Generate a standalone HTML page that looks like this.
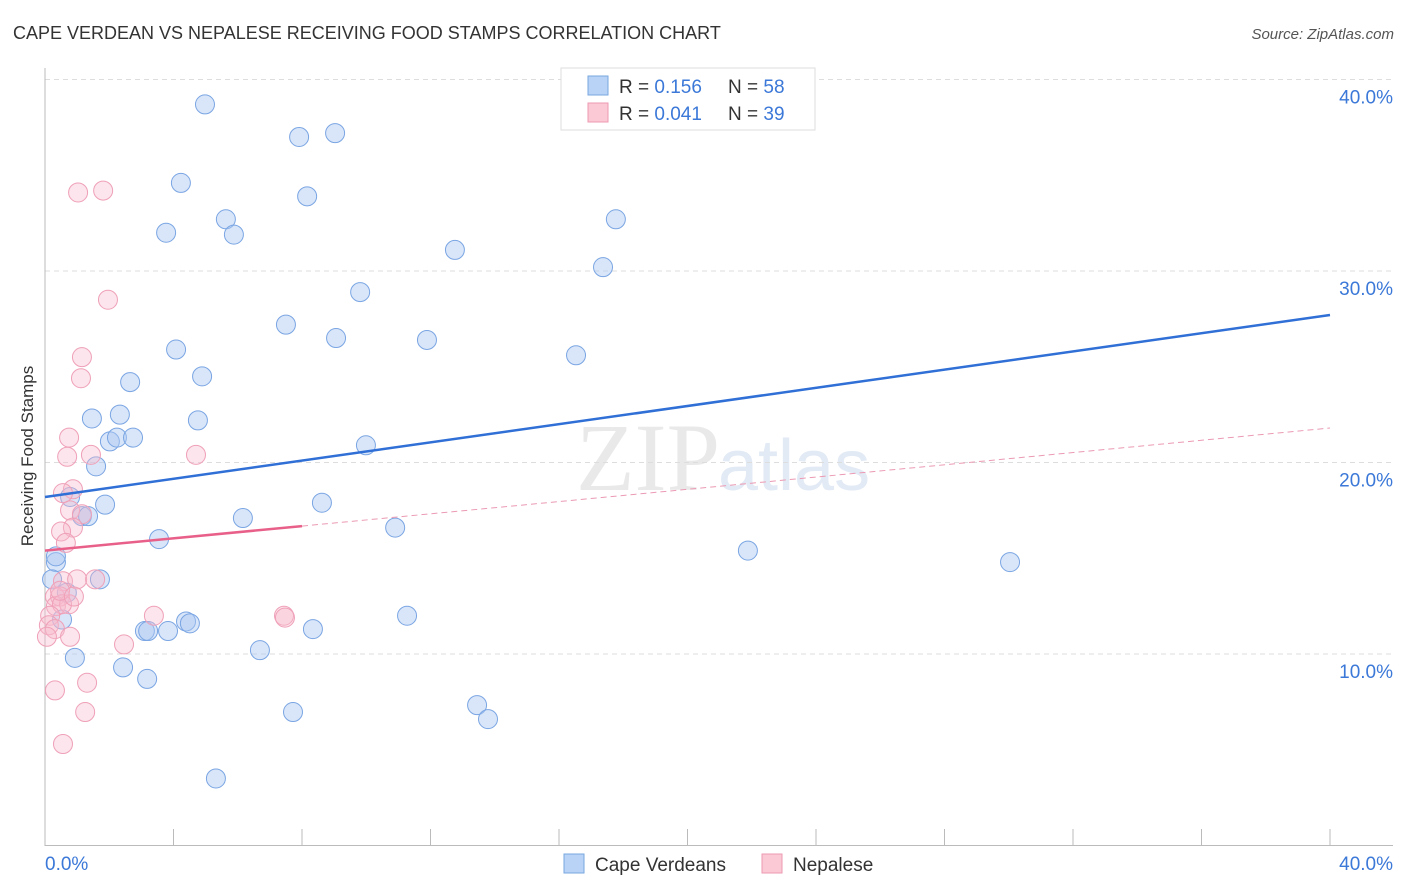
<!DOCTYPE html>
<html><head><meta charset="utf-8"><style>
body{margin:0;background:#fff;font-family:"Liberation Sans",sans-serif}
svg{display:block}
</style></head><body>
<svg id="chart" width="1406" height="892" xmlns="http://www.w3.org/2000/svg">
<text x="13" y="39" font-size="18" fill="#333">CAPE VERDEAN VS NEPALESE RECEIVING FOOD STAMPS CORRELATION CHART</text>
<text x="1394" y="39" font-size="15" fill="#555" font-style="italic" text-anchor="end">Source: ZipAtlas.com</text>
<text x="720" y="490" font-size="96" fill="#e9e9e9" text-anchor="end" font-family="Liberation Serif">ZIP</text>
<text x="718" y="490" font-size="72" fill="#e2eaf5">atlas</text>
<g id="grid"></g>
<g id="axes"></g>
<g id="pts"></g>
<g id="trend"></g>
<text transform="translate(33,456) rotate(-90)" font-size="17" fill="#333" text-anchor="middle">Receiving Food Stamps</text>
<g>
<rect x="561" y="68" width="254" height="62" fill="#fff" stroke="#ddd"/>
<rect x="588" y="76" width="20" height="19" fill="#b8d3f5" stroke="#7aa7e0"/>
<rect x="588" y="103" width="20" height="19" fill="#fbc8d6" stroke="#ee9ab3"/>
<text x="619" y="93" font-size="19" fill="#333">R = <tspan fill="#3b78d8">0.156</tspan><tspan x="728">N = </tspan><tspan fill="#3b78d8">58</tspan></text>
<text x="619" y="120" font-size="19" fill="#333">R = <tspan fill="#3b78d8">0.041</tspan><tspan x="728">N = </tspan><tspan fill="#3b78d8">39</tspan></text>
</g>
<g>
<rect x="564" y="854" width="20" height="19" fill="#b8d3f5" stroke="#7aa7e0"/>
<text x="595" y="871" font-size="19" fill="#333">Cape Verdeans</text>
<rect x="762" y="854" width="20" height="19" fill="#fbc8d6" stroke="#ee9ab3"/>
<text x="793" y="871" font-size="19" fill="#333">Nepalese</text>
</g>
</svg>
<script>
const xTicks=[0,40];
const yTicks=[10,20,30,40];
const blueX=[4.98,7.91,9.03,4.23,8.16,5.63,3.77,5.88,17.77,12.76,17.37,9.81,7.5,9.06,11.89,4.08,16.53,4.89,2.65,1.46,2.33,4.76,2.02,2.24,2.74,9.99,1.59,8.62,1.87,1.15,1.34,6.16,10.9,3.55,21.88,30.04,0.34,1.71,0.22,0.68,11.27,0.53,4.39,4.51,3.11,3.21,3.83,8.34,0.93,6.69,2.43,3.18,7.72,13.45,13.79,5.32,0.34,0.78];
const blueY=[38.7,37.0,37.2,34.6,33.9,32.7,32.0,31.9,32.7,31.1,30.2,28.9,27.2,26.5,26.4,25.9,25.6,24.5,24.2,22.3,22.5,22.2,21.1,21.3,21.3,20.9,19.8,17.9,17.8,17.2,17.2,17.1,16.6,16.0,15.4,14.8,14.8,13.9,13.9,13.2,12.0,11.8,11.7,11.6,11.2,11.2,11.2,11.3,9.8,10.2,9.3,8.7,6.97,7.33,6.6,3.5,15.1,18.2];
const pinkX=[1.03,1.81,1.96,1.15,1.12,0.75,0.69,1.43,4.7,0.87,0.56,0.78,1.15,0.87,0.5,0.65,0.56,1.0,1.56,0.31,0.47,0.34,0.75,0.53,0.16,0.12,0.31,0.78,0.06,3.39,7.44,7.47,2.46,0.31,1.31,1.25,0.56,0.47,0.9];
const pinkY=[34.1,34.2,28.5,25.5,24.4,21.3,20.3,20.4,20.4,18.6,18.4,17.5,17.3,16.6,16.4,15.8,13.8,13.9,13.9,13.0,13.0,12.5,12.6,12.6,12.0,11.5,11.3,10.9,10.9,12.0,12.0,11.9,10.5,8.1,8.5,6.97,5.3,13.3,13.0];
const blueTrend=[18.2,27.7];
const pinkTrend=[15.4,21.8];
const pinkSolidEnd=8;
const NS="http://www.w3.org/2000/svg";
const sx=v=>45+v*32.125, sy=v=>845.5-v*19.15;
function mk(tag,attrs,parent){const e=document.createElementNS(NS,tag);for(const k in attrs)e.setAttribute(k,attrs[k]);document.getElementById(parent).appendChild(e);return e;}
yTicks.forEach(t=>{
 const l=mk('line',{x1:45,x2:1393,y1:sy(t),y2:sy(t),stroke:'#ddd','stroke-dasharray':'5,4'},'grid');
 
 
 const tx=mk('text',{x:1393,y:sy(t)+24,'font-size':19,fill:'#3b78d8','text-anchor':'end'},'grid');
 tx.textContent=t.toFixed(1)+'%';
 
 
});
mk('line',{x1:45,x2:45,y1:68,y2:846,stroke:'#bbb'},'axes');
mk('line',{x1:45,x2:1393,y1:845.5,y2:845.5,stroke:'#bbb'},'axes');
for(let i=0;i<=10;i++){const x=sx(i*4);const t=mk('line',{x1:x,x2:x,y1:829,y2:846,stroke:'#bbb'},'axes');}
xTicks.forEach((t,i)=>{const tx=mk('text',{x:i?1393:45,y:870,'font-size':19,fill:'#3b78d8','text-anchor':i?'end':'start'},'axes');tx.textContent=t.toFixed(1)+'%';
 
 });
blueX.forEach((x,i)=>{const c=mk('circle',{cx:sx(x),cy:sy(blueY[i]),r:9.5,fill:'rgba(170,200,242,0.45)',stroke:'#7aa5e3','stroke-width':1},'pts');
 
 });
pinkX.forEach((x,i)=>{const c=mk('circle',{cx:sx(x),cy:sy(pinkY[i]),r:9.5,fill:'rgba(248,186,204,0.38)',stroke:'#efa0b8','stroke-width':1},'pts');
 
 });
const bl=mk('line',{x1:sx(0),y1:sy(blueTrend[0]),x2:sx(40),y2:sy(blueTrend[1]),stroke:'#2f6fd6','stroke-width':2.5},'trend');


const pm=pinkTrend[0]+(pinkTrend[1]-pinkTrend[0])*pinkSolidEnd/40;
const pl=mk('line',{x1:sx(0),y1:sy(pinkTrend[0]),x2:sx(pinkSolidEnd),y2:sy(pm),stroke:'#e8608a','stroke-width':2.5},'trend');


const pd=mk('line',{x1:sx(pinkSolidEnd),y1:sy(pm),x2:sx(40),y2:sy(pinkTrend[1]),stroke:'#eb9ab3','stroke-width':1,'stroke-dasharray':'6,4'},'trend');


</script>
</body></html>
